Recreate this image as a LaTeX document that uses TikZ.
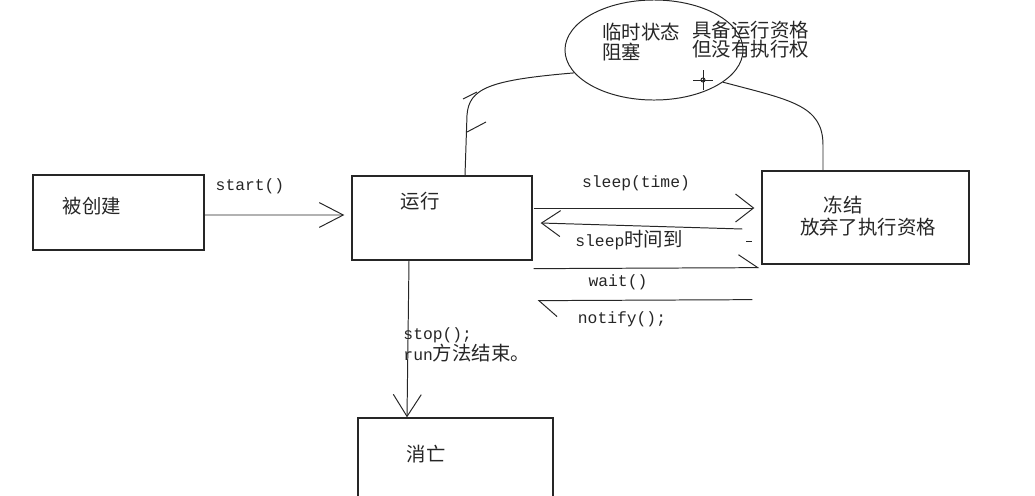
\documentclass[tikz,border=0pt]{standalone}
\usepackage{fontspec}
\setmainfont{Noto Sans CJK SC}
\setmonofont{Liberation Mono}
\usepackage{tikz}
\usetikzlibrary{arrows.meta,positioning,shapes.geometric}
\definecolor{inkgray}{RGB}{38,38,38}
\newcommand{\cnsize}{\fontsize{13.8pt}{13.6pt}\selectfont}
\newcommand{\codesize}{\fontsize{11.6pt}{13.6pt}\selectfont}
\newcommand{\code}[1]{{\codesize\ttfamily #1}}

\begin{document}
\begin{tikzpicture}[x=0.025cm,y=-0.025cm,color=inkgray,line width=0.7pt,
    statebox/.style={draw,line width=0.9pt,inner sep=0pt},
    cnlabel/.style={font=\cnsize,inner sep=0pt},
    codelabel/.style={font=\codesize\ttfamily,inner sep=0pt},
    barb/.style={-{Straight Barb[length=0.6cm,width=0.62cm]}},
    smallbarb/.style={-{Straight Barb[length=0.47cm,width=0.65cm]}},
    halfbarb/.style={-{Straight Barb[harpoon,length=0.48cm,width=0.65cm]}}]
    \useasboundingbox (0,0) rectangle (1035,495);
    % states
    \node[statebox,minimum width=4.275cm,minimum height=1.875cm] (created) at (118.5,212.5) {};
    \node[statebox,minimum width=4.5cm,minimum height=2.1cm] (run) at (442,218) {};
    \node[statebox,minimum width=5.175cm,minimum height=2.325cm] (freeze) at (865.5,217.5) {};
    \node[statebox,minimum width=4.875cm,minimum height=2.05cm] (dead) at (455.5,459) {};
    \node[draw,ellipse,inner sep=0pt,minimum width=4.45cm,minimum height=2.5cm] (blocked) at (654,50) {};
    \node[cnlabel] (createdtext) at (92,206) {被创建};
    \node[cnlabel] (runtext) at (420,201) {运行};
    \node[cnlabel] (freezetext) at (843,205) {冻结};
    \node[cnlabel] (freezenote) at (868,227) {放弃了执行资格};
    \node[cnlabel] (deadtext) at (426,454) {消亡};
    \node[cnlabel,anchor=west,align=left] (blockedtext) at (602,42) {临时状态\\阻塞};
    \node[cnlabel,anchor=west,align=left] (blockednote) at (692,40) {具备运行资格\\但没有执行权};
    % transitions
    \draw[barb] ([shift={(0,2.5)}]created.east) -- ([shift={(-7,-3)}]run.west);
    \draw[smallbarb,-{Straight Barb[length=0.45cm,width=0.7cm]}] ([shift={(1,-10)}]run.east) -- ([shift={(-7,-9.5)}]freeze.west);
    \draw[smallbarb] ([shift={(-19,11.5)}]freeze.west) -- ([shift={(8,5)}]run.east);
    \draw[halfbarb] ([shift={(1,8)}]run.south east) -- ([shift={(-2,3)}]freeze.south west);
    \draw[halfbarb,-{Straight Barb[harpoon,length=0.45cm,width=0.8cm]}] ([shift={(-9,35)}]freeze.south west) -- ([shift={(5,40)}]run.south east);
    \draw[smallbarb,-{Straight Barb[length=0.55cm,width=0.7cm]}] ([shift={(-33,0)}]run.south) -- ([shift={(-48.5,0)}]dead.north);
    \draw ([shift={(23,0)}]run.north) -- (467,115) .. controls (469,88) and (490,80) .. (blocked.196);
    \draw (blocked.335) .. controls (790,100) and (823,105) .. (823,145) -- ([shift={(-42.5,0)}]freeze.north);
    % hand drawn marks
    \draw (467,132) -- (486,122);
    \draw (463,99) -- (477,92);
    \draw (746,241) -- (752,241);
    \draw (693,80) -- (713,80) (703,70) -- (703,90);
    \draw (703,80) circle[radius=0.05cm];
    % labels
    \node[codelabel] (startlabel) at (250,186) {start()};
    \node[codelabel] (sleeplabel) at (636,183) {sleep(time)};
    \node[cnlabel] (wakelabel) at (629,240) {\code{sleep}时间到};
    \node[codelabel] (waitlabel) at (618,282) {wait()};
    \node[codelabel] (notifylabel) at (622,319) {notify();};
    \node[cnlabel,anchor=west,align=left] (stoplabel) at (403,345) {\code{stop();}\\\code{run}方法结束。};
  \end{tikzpicture}
\end{document}
